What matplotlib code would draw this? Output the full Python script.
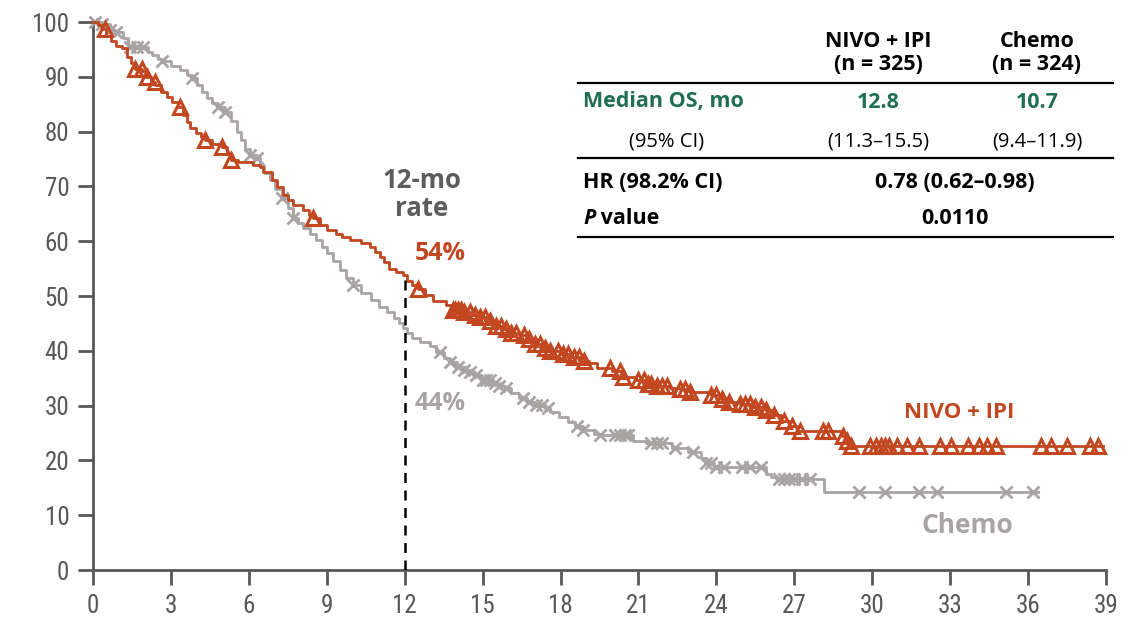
import numpy as np
import matplotlib
matplotlib.use("Agg")
import matplotlib.pyplot as plt
from matplotlib import font_manager as fm
from matplotlib.text import Annotation

# ---------------- data ----------------
nivo_t = [0, 0.2, 0.33, 0.5, 0.7, 0.9, 1.1, 1.3, 1.45, 1.6, 1.9, 2.05, 2.25, 2.4, 2.6, 2.83, 3.05, 3.28,
          3.45, 3.6, 3.73, 3.95, 4.15, 4.3, 4.6, 4.95, 5.15, 5.33, 5.6, 6.15, 6.42, 6.55, 6.9, 7.1, 7.3,
          7.5, 7.7, 8.1, 8.3, 8.48, 8.75, 9.0, 9.37, 9.6, 9.9, 10.3, 10.65, 10.85, 11.04, 11.2, 11.4,
          11.65, 11.93, 12.1, 12.3, 12.5, 12.8, 13.1, 13.6, 13.85, 14.2, 14.6, 14.9, 15.2, 15.5, 15.8,
          16.1, 16.4, 16.7, 17.0, 17.3, 17.6, 18.0, 18.4, 18.8, 19.1, 19.4, 20.0, 20.4, 20.9, 21.3,
          21.7, 22.2, 22.6, 23.0, 23.8, 24.2, 24.5, 24.9, 25.4, 25.9, 26.2, 26.5, 26.8, 27.1, 28.85,
          29.0, 29.15, 38.9]
nivo_s = [100, 99.4, 98.8, 97.5, 96.5, 95.7, 95.2, 93.7, 92.5, 91.5, 91.0, 90.0, 89.0, 88.5, 87.3, 86.4,
          85.4, 84.5, 83.0, 81.7, 80.6, 79.8, 79.0, 78.5, 77.8, 77.2, 76.0, 74.8, 74.5, 73.9, 73.5, 72.7,
          71.2, 69.8, 68.4, 67.5, 66.6, 65.7, 64.8, 64.2, 63.0, 62.0, 61.4, 60.8, 60.2, 59.6, 59.0, 58.1,
          57.2, 56.2, 55.0, 54.4, 53.8, 52.8, 52.0, 51.3, 50.2, 49.0, 48.4, 47.4, 47.0, 46.6, 46.2, 45.4,
          44.6, 44.0, 43.3, 42.8, 42.2, 41.2, 40.6, 39.9, 39.5, 38.8, 38.2, 37.7, 36.8, 36.4, 35.3, 34.7,
          34.0, 33.6, 33.2, 33.0, 32.5, 31.9, 31.2, 30.7, 30.3, 29.8, 29.2, 28.2, 27.2, 26.2, 25.4, 24.5,
          23.6, 22.7, 22.7]
nivo_cens = [0.46, 1.62, 1.87, 2.06, 2.38, 3.35, 4.3, 4.95, 5.33, 8.48, 12.5, 13.85, 13.95, 14.05, 14.15,
             14.3, 14.5, 14.7, 14.9, 15.1, 15.3, 15.5, 15.7, 15.9, 16.1, 16.3, 16.6, 16.8, 17.0, 17.2,
             17.4, 17.6, 17.9, 18.1, 18.3, 18.5, 18.7, 18.9, 19.9, 20.3, 20.4, 21.0, 21.2, 21.35, 21.5,
             21.7, 21.9, 22.1, 22.6, 22.8, 23.0, 23.8, 24.0, 24.2, 24.5, 24.9, 25.1, 25.3, 25.5, 25.7,
             25.9, 26.2, 26.6, 26.9, 27.2, 28.1, 28.3, 28.87, 29.02, 29.17, 29.9, 30.15, 30.35, 30.5,
             30.65, 30.95, 31.35, 31.8, 32.6, 33.05, 33.7, 34.1, 34.4, 34.75, 36.5, 36.9, 37.5, 38.4, 38.7]

chemo_t = [0, 0.33, 0.65, 0.9, 1.15, 1.36, 1.42, 2.1, 2.26, 2.5, 2.64, 3.0, 3.35, 3.6, 3.8, 4.0, 4.2,
           4.37, 4.6, 4.82, 5.08, 5.3, 5.53, 5.7, 5.85, 6.04, 6.3, 6.42, 6.6, 6.8, 7.0, 7.26, 7.5, 7.7,
           7.9, 8.1, 8.35, 8.6, 8.8, 9.0, 9.25, 9.5, 9.75, 10.0, 10.3, 10.7, 11.0, 11.3, 11.6, 11.8,
           11.95, 12.1, 12.3, 12.6, 12.96, 13.2, 13.5, 13.73, 14.0, 14.3, 14.5, 14.7, 14.95, 15.4, 15.6,
           15.85, 16.1, 16.4, 16.7, 17.0, 17.4, 17.6, 17.96, 18.3, 18.55, 18.85, 19.3, 19.5, 20.8, 21.3,
           22.3, 22.9, 23.4, 23.6, 23.9, 25.9, 26.1, 26.3, 28.15, 36.4]
chemo_s = [100, 99.7, 98.5, 98.2, 97.0, 95.8, 95.4, 94.6, 94.0, 93.3, 92.8, 92.0, 91.2, 90.4, 89.7, 88.5,
           87.2, 86.1, 85.2, 84.5, 83.6, 82.0, 80.0, 78.4, 76.9, 75.7, 75.1, 73.9, 72.5, 71.2, 69.5, 67.8,
           66.0, 64.2, 63.3, 62.4, 61.3, 60.2, 59.0, 57.8, 56.3, 54.7, 53.3, 52.0, 50.5, 49.2, 48.0, 47.0,
           46.0, 45.0, 44.2, 43.2, 42.4, 41.6, 40.8, 39.8, 38.6, 38.0, 37.1, 36.5, 36.2, 35.6, 34.7, 34.1,
           33.5, 33.2, 32.3, 31.3, 30.6, 30.1, 29.5, 28.9, 28.0, 27.0, 26.2, 25.5, 24.9, 24.6, 23.6, 23.2,
           22.2, 21.6, 20.4, 19.5, 18.8, 17.6, 17.0, 16.6, 14.3, 14.3]
chemo_cens = [0.08, 0.33, 0.65, 0.9, 1.42, 1.68, 1.93, 2.64, 3.8, 4.82, 5.08, 6.04, 6.3, 7.26, 7.7, 10.0,
              13.35, 13.73, 14.05, 14.3, 14.5, 14.76, 15.0, 15.14, 15.27, 15.46, 15.65, 15.9, 16.55, 16.8,
              17.06, 17.3, 17.5, 18.65, 18.85, 19.5, 20.1, 20.3, 20.5, 20.6, 21.5, 21.7, 21.9, 22.4, 23.1,
              23.6, 23.8, 24.0, 24.3, 25.0, 25.3, 25.7, 26.4, 26.6, 26.8, 27.0, 27.3, 27.6, 29.5, 30.5,
              31.8, 32.5, 35.15, 36.2]

x_ticks = list(range(0, 40, 3))
y_ticks = list(range(0, 101, 10))
landmark_month = 12
nivo_rate_label = "54%"
chemo_rate_label = "44%"

table_cols = ["NIVO + IPI\n(n = 325)", "Chemo\n(n = 324)"]
median_os = ["12.8", "10.7"]
median_ci = ["(11.3–15.5)", "(9.4–11.9)"]
hr_text = "0.78 (0.62–0.98)"
p_text = "0.0110"

# ---------------- style ----------------
RED = "#C2461F"
GRAY = "#A9A4A4"
DARK = "#575757"
GREEN = "#1F6E55"

avail = {f.name for f in fm.fontManager.ttflist}
def pick(*names):
    for n in names:
        if n in avail:
            return n
    return "DejaVu Sans"
TXT = pick("Open Sans", "Lato", "Roboto", "DejaVu Sans")
TICK = pick("Liberation Sans Narrow", "Roboto Condensed", "Open Sans Condensed", "Lato", "DejaVu Sans")

W, H = 1147, 621
fig = plt.figure(figsize=(W / 100, H / 100), dpi=100)
ax = fig.add_axes([93 / W, 1 - 570 / H, (1106 - 93) / W, (570 - 22) / H])
ax.set_xlim(0, 39)
ax.set_ylim(0, 100)
for s in ["top", "right"]:
    ax.spines[s].set_visible(False)
for s in ["left", "bottom"]:
    ax.spines[s].set_color(DARK)
    ax.spines[s].set_linewidth(2)
ax.set_xticks(x_ticks)
ax.set_yticks(y_ticks)
ax.tick_params(axis="both", length=11, width=2, color=DARK, labelcolor=DARK, labelsize=18, pad=6)
for lab in ax.get_xticklabels() + ax.get_yticklabels():
    lab.set_fontfamily(TICK)


def step_at(t_knots, s_knots, t):
    t_knots = np.asarray(t_knots)
    idx = np.searchsorted(t_knots, np.asarray(t), side="right") - 1
    return np.asarray(s_knots)[idx]

# curves
ax.plot(chemo_t, chemo_s, drawstyle="steps-post", color=GRAY, lw=2, zorder=3, clip_on=False)
ax.plot(chemo_cens, step_at(chemo_t, chemo_s, chemo_cens), ls="none", marker="x", ms=8, mew=2,
        color=GRAY, zorder=3, clip_on=False)
ax.plot(nivo_t, nivo_s, drawstyle="steps-post", color=RED, lw=2, zorder=4, clip_on=False)
ax.plot(nivo_cens, step_at(nivo_t, nivo_s, nivo_cens), ls="none", marker="^", ms=9.5, mew=2.2,
        mfc="none", mec=RED, zorder=4, clip_on=False)

# landmark line
y12 = float(step_at(nivo_t, nivo_s, [landmark_month])[0])
ax.plot([landmark_month, landmark_month], [0, y12], color="black", lw=1.8, ls=(0, (4, 3)), zorder=5)

ax.text(12.65, 68.5, "12-mo\nrate", ha="center", va="center", fontsize=18.5, fontweight="bold",
        color="#5E5B5B", family=TXT, linespacing=1.05)
ax.text(13.35, 57.7, nivo_rate_label, ha="center", va="center", fontsize=18, fontweight="bold",
        color=RED, family=TXT)
ax.text(13.35, 30.3, chemo_rate_label, ha="center", va="center", fontsize=18, fontweight="bold",
        color=GRAY, family=TXT)
ax.text(33.35, 28.8, "NIVO + IPI", ha="center", va="center", fontsize=16, fontweight="bold",
        color=RED, family=TXT)
ax.text(33.65, 8.2, "Chemo", ha="center", va="center", fontsize=19, fontweight="bold",
        color=GRAY, family=TXT)

# ---------------- table ----------------
def fx(px):
    return px / W
def fy(py):
    return 1 - py / H

FS = 15.5
FSR = 14.5
col_x = [878, 1037]
for cx, lab in zip(col_x, table_cols):
    fig.text(fx(cx), fy(53), lab, ha="center", va="center", fontsize=FS, fontweight="bold",
             color="black", family=TXT, linespacing=1.15)
for ypx in [83, 158, 237]:
    fig.add_artist(plt.Line2D([fx(578), fx(1113)], [fy(ypx), fy(ypx)], color="black", lw=1.6))

fig.text(fx(583), fy(102), "Median OS, mo", ha="left", va="center", fontsize=FS, fontweight="bold",
         color=GREEN, family=TXT)
for cx, v in zip(col_x, median_os):
    fig.text(fx(cx), fy(102), v, ha="center", va="center", fontsize=FS, fontweight="bold",
             color=GREEN, family=TXT)
fig.text(fx(667), fy(142), "(95% CI)", ha="center", va="center", fontsize=FSR, color="black", family=TXT)
for cx, v in zip(col_x, median_ci):
    fig.text(fx(cx), fy(142), v, ha="center", va="center", fontsize=FSR, color="black", family=TXT)

fig.text(fx(583), fy(182), "HR (98.2% CI)", ha="left", va="center", fontsize=FS, fontweight="bold",
         color="black", family=TXT)
fig.text(fx(955), fy(182), hr_text, ha="center", va="center", fontsize=FS, fontweight="bold",
         color="black", family=TXT)
ptxt = fig.text(fx(583), fy(219), "P", ha="left", va="center", fontsize=FS, fontweight="bold",
                style="italic", color="black", family=TXT)
fig.add_artist(Annotation(" value", xy=(1.0, 0.5), xycoords=ptxt, ha="left", va="center",
                          fontsize=FS, fontweight="bold", color="black", family=TXT))
fig.text(fx(955), fy(219), p_text, ha="center", va="center", fontsize=FS, fontweight="bold",
         color="black", family=TXT)

fig.savefig("out.png", dpi=100)
